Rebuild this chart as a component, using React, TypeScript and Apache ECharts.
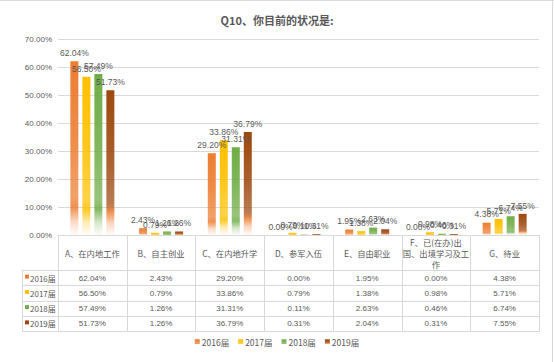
import React, { useEffect, useRef } from "react";
import * as echarts from "echarts";

const categories = [
  "A、在内地工作",
  "B、自主创业",
  "C、在内地升学",
  "D、参军入伍",
  "E、自由职业",
  "F、已(在办)出国、出境学习及工作",
  "G、待业",
];
const seriesNames = ["2016届", "2017届", "2018届", "2019届"];
const v2016 = [62.04, 2.43, 29.2, 0.0, 1.95, 0.0, 4.38];
const v2017 = [56.5, 0.79, 33.86, 0.79, 1.38, 0.98, 5.71];
const v2018 = [57.49, 1.26, 31.31, 0.11, 2.63, 0.46, 6.74];
const v2019 = [51.73, 1.26, 36.79, 0.31, 2.04, 0.31, 7.55];
const yTicks = [0, 10, 20, 30, 40, 50, 60, 70];

const W = 554;
const H = 362;
const GRID_LEFT = 58;
const GRID_RIGHT = 15;
const GRID_TOP = 39;
const GRID_BOTTOM = 127;
const HEADER_H = 35;
const ROW_H = 15.25;
const LABEL_COL_LEFT = 22;
const TEXT = "#595959";
const LINE = "#d9d9d9";
const NUM_FONT = '"Liberation Sans Narrow", "Liberation Sans", "Noto Sans CJK SC", sans-serif';
const CJK_FONT = '"Noto Sans CJK SC", "Liberation Sans", sans-serif';
const HEADER_FONT_SIZE = 8.3;
const HEADER_MAX_W = 67;

const colors = ["#ED7D31", "#FFC000", "#70AD47", "#9E480E"];
const rgb = [
  [237, 125, 49],
  [255, 192, 0],
  [112, 173, 71],
  [158, 72, 14],
];

function grad(i: number) {
  const [r, g, b] = rgb[i];
  const c = (a: number) => `rgba(${r},${g},${b},${a})`;
  const lower = i === 3 ? (a: number) => `rgba(237,125,49,${a})` : c;
  return new echarts.graphic.LinearGradient(0, 0, 0, 1, [
    { offset: 0, color: c(1) },
    { offset: 0.45, color: c(0.88) },
    { offset: 0.78, color: c(0.72) },
    { offset: 0.84, color: lower(0.85) },
    { offset: 0.92, color: lower(0.3) },
    { offset: 1, color: lower(0.02) },
  ]);
}

const allValues = [v2016, v2017, v2018, v2019];

function fmt(v: number) {
  return v.toFixed(2) + "%";
}

// simple character wrap with a "no line-start punctuation" rule
const NO_START = "、，。）)：:；;！？";
function wrapText(text: string, maxW: number, font: string) {
  const canvas = document.createElement("canvas");
  const ctx = canvas.getContext("2d")!;
  ctx.font = font;
  const chars = Array.from(text);
  const lines: string[][] = [];
  let cur: string[] = [];
  for (const ch of chars) {
    const test = cur.concat(ch).join("");
    if (cur.length && ctx.measureText(test).width > maxW) {
      if (NO_START.includes(ch) && cur.length > 1) {
        const last = cur.pop()!;
        lines.push(cur);
        cur = [last, ch];
      } else {
        lines.push(cur);
        cur = [ch];
      }
    } else {
      cur.push(ch);
    }
  }
  if (cur.length) lines.push(cur);
  return lines.map((l) => l.join("")).join("\n");
}

function buildTable() {
  const els: any[] = [];
  const x0 = GRID_LEFT;
  const x1 = W - GRID_RIGHT;
  const colW = (x1 - x0) / categories.length;
  const yTop = H - GRID_BOTTOM;
  const yHeadBottom = yTop + HEADER_H;
  const yBottom = yHeadBottom + ROW_H * seriesNames.length;
  const line = (xa: number, ya: number, xb: number, yb: number) => ({
    type: "line",
    silent: true,
    shape: { x1: xa, y1: ya, x2: xb, y2: yb },
    style: { stroke: LINE, lineWidth: 1 },
  });
  for (let i = 0; i <= categories.length; i++) {
    const x = Math.round(x0 + i * colW) + 0.5;
    els.push(line(x, yTop, x, yBottom));
  }
  els.push(line(LABEL_COL_LEFT + 0.5, yHeadBottom, LABEL_COL_LEFT + 0.5, yBottom));
  for (let r = 0; r <= seriesNames.length; r++) {
    const y = Math.round(yHeadBottom + r * ROW_H) + 0.5;
    els.push(line(LABEL_COL_LEFT, y, x1 + 0.5, y));
  }
  const headerFont = `${HEADER_FONT_SIZE}px "Noto Sans CJK SC", sans-serif`;
  categories.forEach((c, i) => {
    els.push({
      type: "text",
      silent: true,
      x: x0 + (i + 0.5) * colW,
      y: yTop + HEADER_H / 2 + 0.5,
      style: {
        text: wrapText(c, HEADER_MAX_W, headerFont),
        lineHeight: 11,
        fontSize: HEADER_FONT_SIZE,
        fontFamily: CJK_FONT,
        fill: TEXT,
        align: "center",
        verticalAlign: "middle",
      },
    });
  });
  seriesNames.forEach((name, r) => {
    const yc = yHeadBottom + (r + 0.5) * ROW_H + 0.5;
    els.push({
      type: "rect",
      silent: true,
      shape: { x: LABEL_COL_LEFT + 3, y: yc - 3.5, width: 4, height: 4 },
      style: { fill: colors[r] },
    });
    els.push({
      type: "text",
      silent: true,
      x: LABEL_COL_LEFT + 8,
      y: yc,
      style: {
        text: name,
        fontSize: 8,
        fontFamily: CJK_FONT,
        fill: TEXT,
        align: "left",
        verticalAlign: "middle",
      },
    });
    allValues[r].forEach((v, i) => {
      els.push({
        type: "text",
        silent: true,
        x: x0 + (i + 0.5) * colW,
        y: yc,
        style: {
          text: fmt(v),
          fontSize: 8,
          fontFamily: NUM_FONT,
          fill: TEXT,
          align: "center",
          verticalAlign: "middle",
        },
      });
    });
  });
  els.push(line(0, 0.5, W, 0.5));
  els.push(line(W - 1.5, 0, W - 1.5, H));
  return els;
}

export default function App() {
  const ref = useRef<HTMLDivElement>(null);
  useEffect(() => {
    if (!ref.current) return;
    const chart = echarts.init(ref.current, undefined, { renderer: "svg" });
    chart.setOption({
      animation: false,
      backgroundColor: "#ffffff",
      title: {
        text: "Q10、你目前的状况是:",
        left: "center",
        top: 9,
        textStyle: {
          fontSize: 11,
          fontWeight: "bold",
          color: TEXT,
          fontFamily: CJK_FONT,
        },
      },
      legend: {
        data: seriesNames,
        bottom: 11,
        left: "center",
        icon: "rect",
        itemWidth: 5,
        itemHeight: 5,
        itemGap: 9,
        textStyle: { fontSize: 8.5, color: TEXT, fontFamily: CJK_FONT, padding: [0, 0, 0, -3] },
      },
      grid: {
        left: GRID_LEFT,
        right: GRID_RIGHT,
        top: GRID_TOP,
        bottom: GRID_BOTTOM,
        containLabel: false,
      },
      xAxis: {
        type: "category",
        data: categories,
        axisLine: { lineStyle: { color: LINE } },
        axisTick: { show: false },
        axisLabel: { show: false },
      },
      yAxis: {
        type: "value",
        min: yTicks[0],
        max: yTicks[yTicks.length - 1],
        interval: 10,
        axisLine: { show: false },
        axisTick: { show: false },
        splitLine: { lineStyle: { color: LINE } },
        axisLabel: {
          fontSize: 8,
          color: TEXT,
          fontFamily: NUM_FONT,
          margin: 6,
          formatter: (v: number) => fmt(v),
        },
      },
      series: seriesNames.map((name, i) => ({
        name,
        type: "bar",
        data: allValues[i],
        barWidth: 8,
        barGap: "50%",
        itemStyle: { color: grad(i) },
        label: {
          show: true,
          position: "top",
          distance: 4,
          fontSize: 8.5,
          color: TEXT,
          fontFamily: NUM_FONT,
          formatter: (p: any) => fmt(p.value),
        },
      })),
      color: colors,
      graphic: buildTable(),
    });
    return () => chart.dispose();
  }, []);
  return (
    <div
      ref={ref}
      style={{ position: "absolute", left: 0, top: 0, width: W, height: H }}
    />
  );
}
